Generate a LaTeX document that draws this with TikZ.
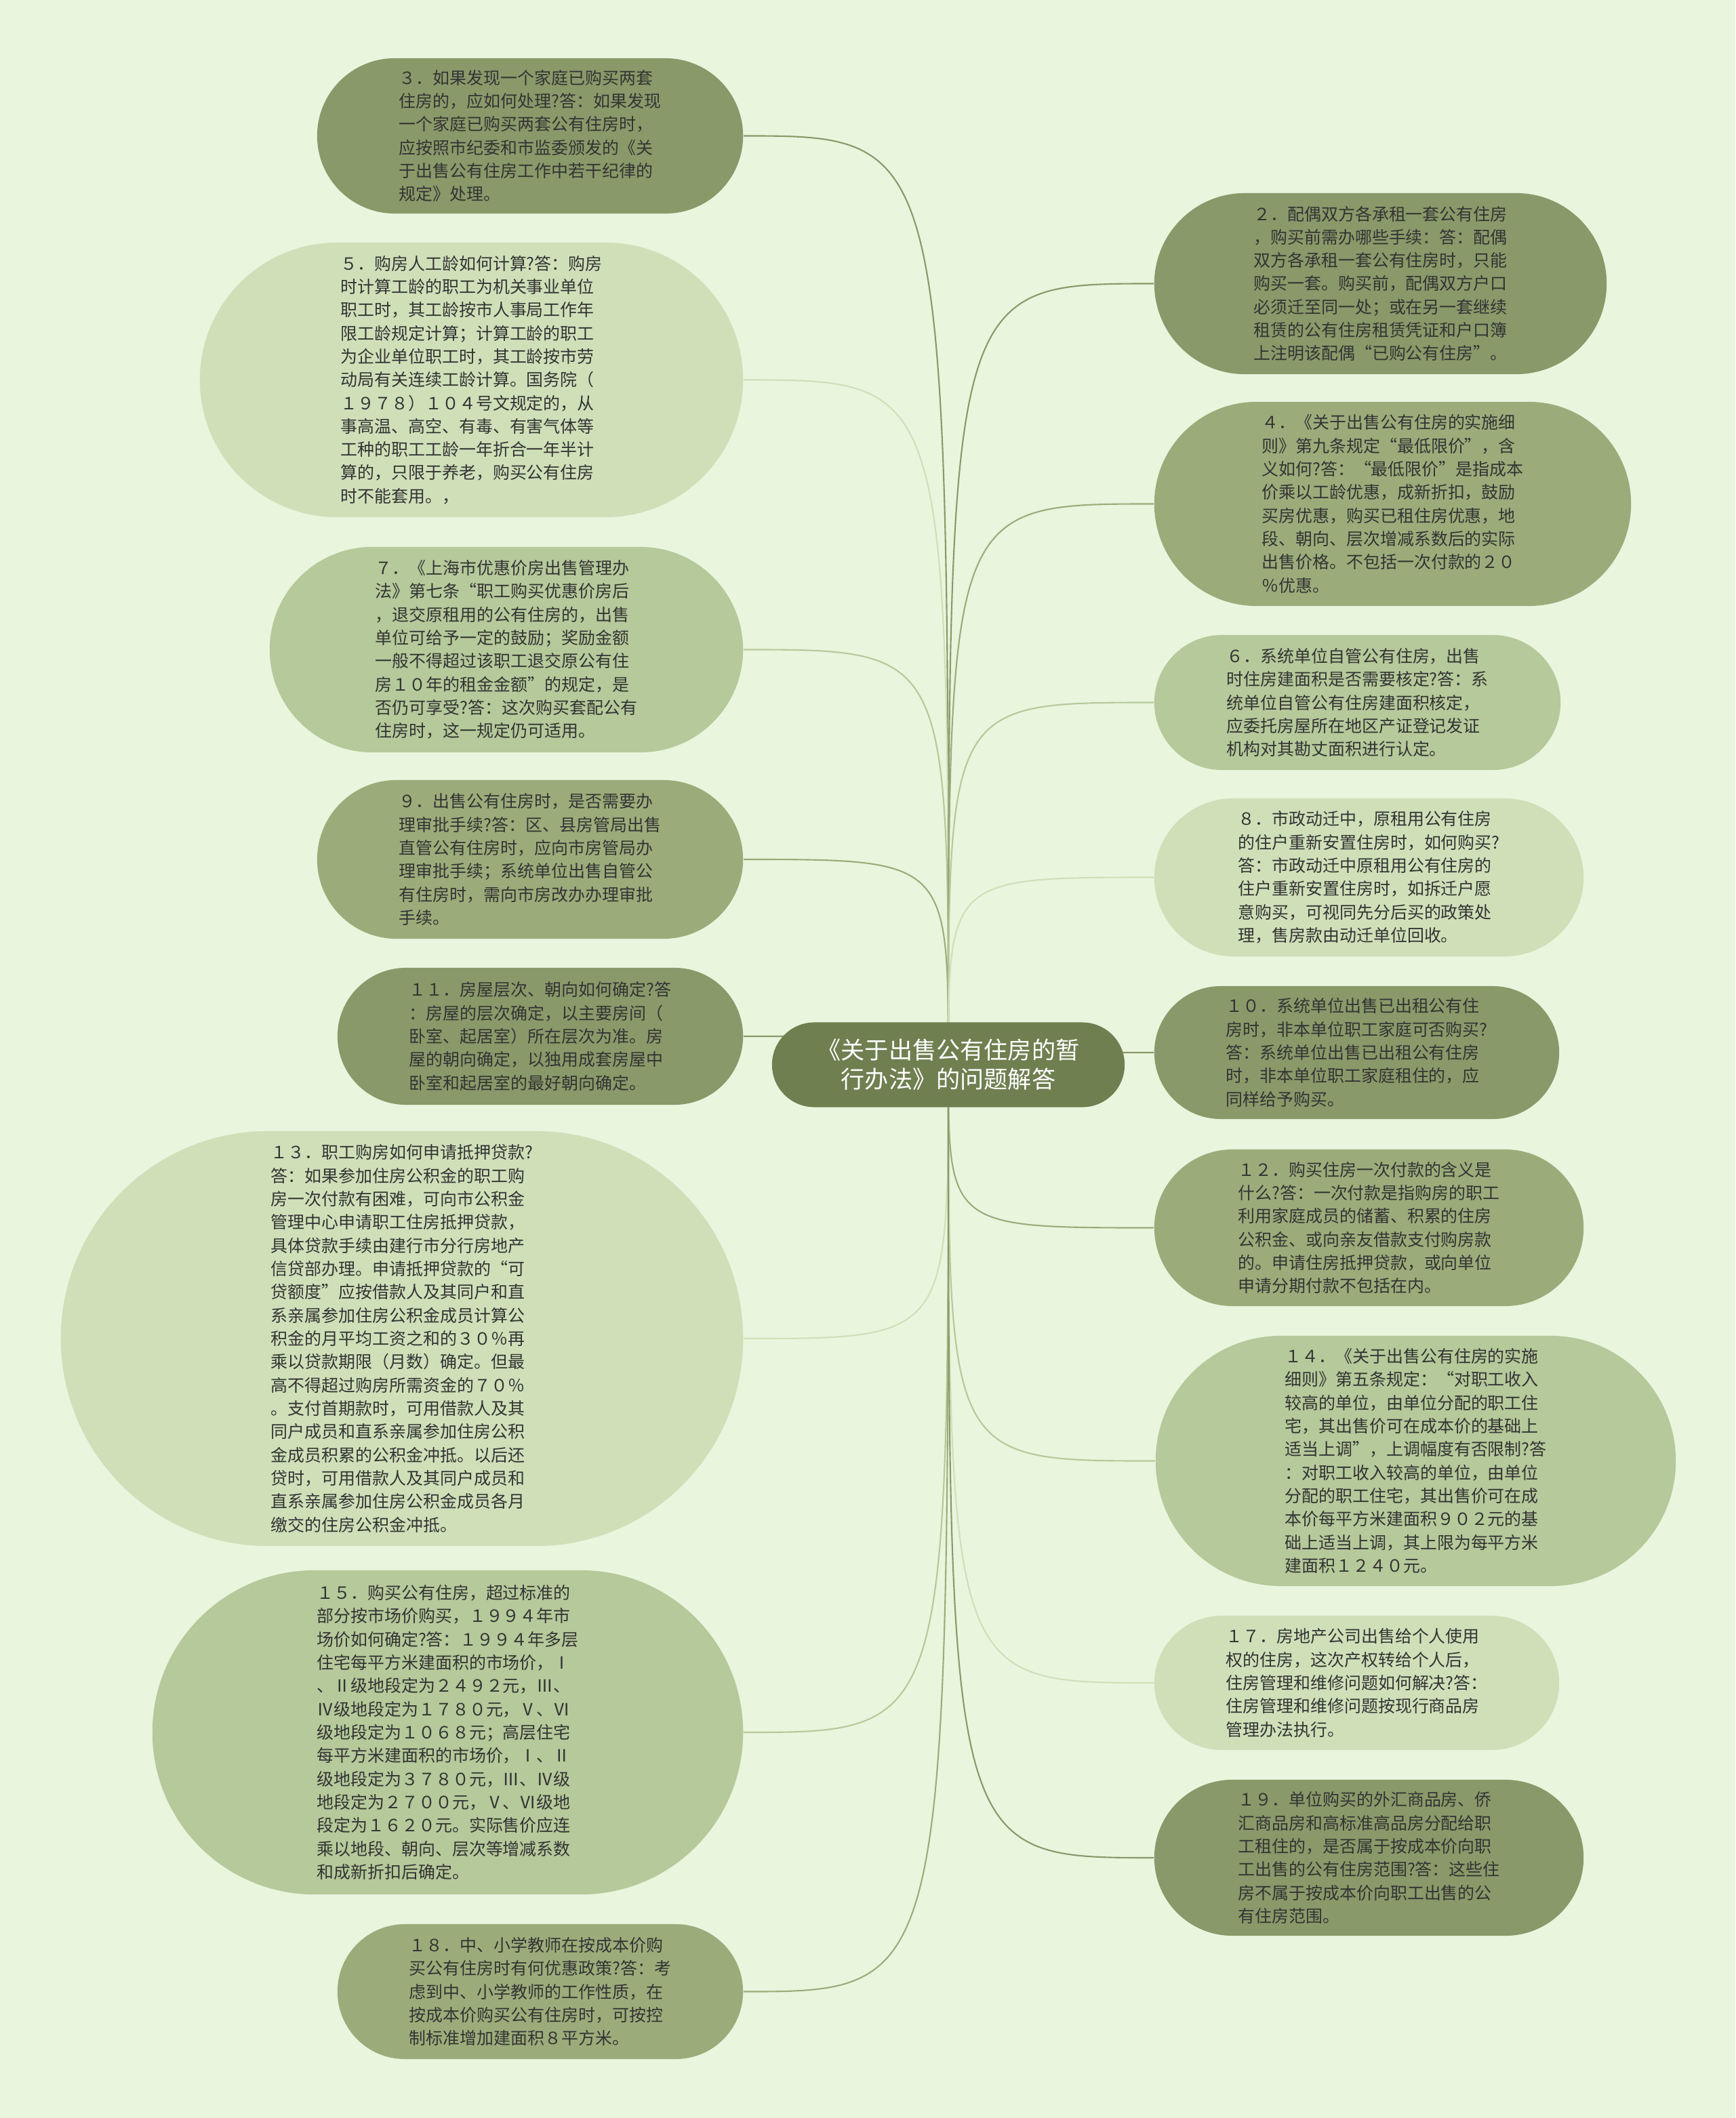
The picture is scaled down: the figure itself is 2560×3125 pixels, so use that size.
\documentclass[tikz,border=0pt]{standalone}
\usepackage{fontspec}
\setmainfont{Noto Sans CJK SC}
\definecolor{fond}{RGB}{233,245,221}
\definecolor{racine}{RGB}{111,127,80}
\definecolor{olive}{RGB}{137,153,105}
\definecolor{sauge}{RGB}{155,172,122}
\definecolor{tilleul}{RGB}{181,201,154}
\definecolor{pistache}{RGB}{207,224,185}
\definecolor{encre}{RGB}{51,51,51}

\begin{document}
\begin{tikzpicture}[x=0.01cm,y=-0.01cm,
  feuille/.style={fill=#1, text=encre, align=left, inner sep=0pt, font=\fontsize{7.1pt}{9.76pt}\selectfont},
  lien/.style={#1, line width=0.6pt}]
\useasboundingbox (0,0) rectangle (2560,3125);
\fill [fond] (0,0) rectangle (2560,3125);
\coordinate (hub) at (1399,1571);

\node[feuille=olive, minimum width=6.28cm, minimum height=2.29cm, rounded corners=1.145cm] (q3) at (782,200.5)
 {３．如果发现一个家庭已购买两套\\住房的，应如何处理?答：如果发现\\一个家庭已购买两套公有住房时，\\应按照市纪委和市监委颁发的《关\\于出售公有住房工作中若干纪律的\\规定》处理。};
\node[feuille=pistache, minimum width=8.01cm, minimum height=4.05cm, rounded corners=2.025cm] (q5) at (695.5,560.5)
 {５．购房人工龄如何计算?答：购房\\时计算工龄的职工为机关事业单位\\职工时，其工龄按市人事局工作年\\限工龄规定计算；计算工龄的职工\\为企业单位职工时，其工龄按市劳\\动局有关连续工龄计算。国务院（\\１９７８）１０４号文规定的，从\\事高温、高空、有毒、有害气体等\\工种的职工工龄一年折合一年半计\\算的，只限于养老，购买公有住房\\时不能套用。，};
\node[feuille=tilleul, minimum width=6.98cm, minimum height=3.03cm, rounded corners=1.515cm] (q7) at (747,958.5)
 {７．《上海市优惠价房出售管理办\\法》第七条“职工购买优惠价房后\\，退交原租用的公有住房的，出售\\单位可给予一定的鼓励；奖励金额\\一般不得超过该职工退交原公有住\\房１０年的租金金额”的规定，是\\否仍可享受?答：这次购买套配公有\\住房时，这一规定仍可适用。};
\node[feuille=sauge, minimum width=6.28cm, minimum height=2.34cm, rounded corners=1.17cm] (q9) at (782,1268)
 {９．出售公有住房时，是否需要办\\理审批手续?答：区、县房管局出售\\直管公有住房时，应向市房管局办\\理审批手续；系统单位出售自管公\\有住房时，需向市房改办办理审批\\手续。};
\node[feuille=olive, minimum width=5.98cm, minimum height=2.02cm, rounded corners=1.01cm] (q11) at (797,1529)
 {１１．房屋层次、朝向如何确定?答\\：房屋的层次确定，以主要房间（\\卧室、起居室）所在层次为准。房\\屋的朝向确定，以独用成套房屋中\\卧室和起居室的最好朝向确定。};
\node[feuille=pistache, minimum width=10.06cm, minimum height=6.12cm, rounded corners=3.06cm] (q13) at (593,1975)
 {１３．职工购房如何申请抵押贷款?\\答：如果参加住房公积金的职工购\\房一次付款有困难，可向市公积金\\管理中心申请职工住房抵押贷款，\\具体贷款手续由建行市分行房地产\\信贷部办理。申请抵押贷款的“可\\贷额度”应按借款人及其同户和直\\系亲属参加住房公积金成员计算公\\积金的月平均工资之和的３０％再\\乘以贷款期限（月数）确定。但最\\高不得超过购房所需资金的７０％\\。支付首期款时，可用借款人及其\\同户成员和直系亲属参加住房公积\\金成员积累的公积金冲抵。以后还\\贷时，可用借款人及其同户成员和\\直系亲属参加住房公积金成员各月\\缴交的住房公积金冲抵。};
\node[feuille=tilleul, minimum width=8.71cm, minimum height=4.78cm, rounded corners=2.39cm] (q15) at (660.5,2556)
 {１５．购买公有住房，超过标准的\\部分按市场价购买，１９９４年市\\场价如何确定?答：１９９４年多层\\住宅每平方米建面积的市场价，Ⅰ\\、Ⅱ级地段定为２４９２元，Ⅲ、\\Ⅳ级地段定为１７８０元，Ⅴ、Ⅵ\\级地段定为１０６８元；高层住宅\\每平方米建面积的市场价，Ⅰ、Ⅱ\\级地段定为３７８０元，Ⅲ、Ⅳ级\\地段定为２７００元，Ⅴ、Ⅵ级地\\段定为１６２０元。实际售价应连\\乘以地段、朝向、层次等增减系数\\和成新折扣后确定。};
\node[feuille=sauge, minimum width=5.98cm, minimum height=1.99cm, rounded corners=0.995cm] (q18) at (797,2938.5)
 {１８．中、小学教师在按成本价购\\买公有住房时有何优惠政策?答：考\\虑到中、小学教师的工作性质，在\\按成本价购买公有住房时，可按控\\制标准增加建面积８平方米。};

\node[feuille=olive, minimum width=6.67cm, minimum height=2.67cm, rounded corners=1.335cm] (q2) at (2036.5,418.5)
 {２．配偶双方各承租一套公有住房\\，购买前需办哪些手续：答：配偶\\双方各承租一套公有住房时，只能\\购买一套。购买前，配偶双方户口\\必须迁至同一处；或在另一套继续\\租赁的公有住房租赁凭证和户口簿\\上注明该配偶“已购公有住房”。};
\node[feuille=sauge, minimum width=7.03cm, minimum height=3.01cm, rounded corners=1.505cm] (q4) at (2054.5,743.5)
 {４．《关于出售公有住房的实施细\\则》第九条规定“最低限价”，含\\义如何?答：“最低限价”是指成本\\价乘以工龄优惠，成新折扣，鼓励\\买房优惠，购买已租住房优惠，地\\段、朝向、层次增减系数后的实际\\出售价格。不包括一次付款的２０\\％优惠。};
\node[feuille=tilleul, minimum width=5.99cm, minimum height=1.99cm, rounded corners=0.995cm] (q6) at (2002.5,1036.5)
 {６．系统单位自管公有住房，出售\\时住房建面积是否需要核定?答：系\\统单位自管公有住房建面积核定，\\应委托房屋所在地区产证登记发证\\机构对其勘丈面积进行认定。};
\node[feuille=pistache, minimum width=6.33cm, minimum height=2.33cm, rounded corners=1.165cm] (q8) at (2019.5,1294.5)
 {８．市政动迁中，原租用公有住房\\的住户重新安置住房时，如何购买?\\答：市政动迁中原租用公有住房的\\住户重新安置住房时，如拆迁户愿\\意购买，可视同先分后买的政策处\\理，售房款由动迁单位回收。};
\node[feuille=olive, minimum width=5.97cm, minimum height=1.96cm, rounded corners=0.98cm] (q10) at (2001.5,1553)
 {１０．系统单位出售已出租公有住\\房时，非本单位职工家庭可否购买?\\答：系统单位出售已出租公有住房\\时，非本单位职工家庭租住的，应\\同样给予购买。};
\node[feuille=sauge, minimum width=6.33cm, minimum height=2.31cm, rounded corners=1.155cm] (q12) at (2019.5,1811.5)
 {１２．购买住房一次付款的含义是\\什么?答：一次付款是指购房的职工\\利用家庭成员的储蓄、积累的住房\\公积金、或向亲友借款支付购房款\\的。申请住房抵押贷款，或向单位\\申请分期付款不包括在内。};
\node[feuille=tilleul, minimum width=7.67cm, minimum height=3.69cm, rounded corners=1.845cm] (q14) at (2088.5,2155.5)
 {１４．《关于出售公有住房的实施\\细则》第五条规定：“对职工收入\\较高的单位，由单位分配的职工住\\宅，其出售价可在成本价的基础上\\适当上调”，上调幅度有否限制?答\\：对职工收入较高的单位，由单位\\分配的职工住宅，其出售价可在成\\本价每平方米建面积９０２元的基\\础上适当上调，其上限为每平方米\\建面积１２４０元。};
\node[feuille=pistache, minimum width=5.97cm, minimum height=1.98cm, rounded corners=0.99cm] (q17) at (2001.5,2483)
 {１７．房地产公司出售给个人使用\\权的住房，这次产权转给个人后，\\住房管理和维修问题如何解决?答：\\住房管理和维修问题按现行商品房\\管理办法执行。};
\node[feuille=olive, minimum width=6.33cm, minimum height=2.30cm, rounded corners=1.15cm] (q19) at (2019.5,2741)
 {１９．单位购买的外汇商品房、侨\\汇商品房和高标准高品房分配给职\\工租住的，是否属于按成本价向职\\工出售的公有住房范围?答：这些住\\房不属于按成本价向职工出售的公\\有住房范围。};

\foreach \q/\c in {q3/olive,q5/pistache,q7/tilleul,q9/sauge,q11/olive,q13/pistache,q15/tilleul,q18/sauge}
  \draw [lien=\c] (hub) .. controls (hub |- \q.east) .. (\q.east);
\foreach \q/\c in {q2/olive,q4/sauge,q6/tilleul,q8/pistache,q10/olive,q12/sauge,q14/tilleul,q17/pistache,q19/olive}
  \draw [lien=\c] (hub) .. controls (hub |- \q.west) .. (\q.west);

\node[fill=racine, text=white, align=center, inner sep=0pt, minimum width=5.2cm, minimum height=1.25cm, rounded corners=0.625cm, font=\fontsize{10pt}{12.2pt}\selectfont] (titre) at (hub)
 {《关于出售公有住房的暂\\行办法》的问题解答};
\end{tikzpicture}
\end{document}
